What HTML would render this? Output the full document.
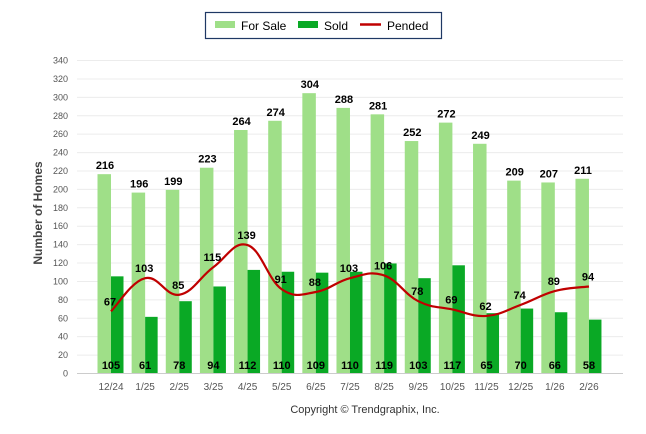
<!DOCTYPE html>
<html><head><meta charset="utf-8"><style>
body{margin:0;background:#fff;font-family:"Liberation Sans",sans-serif}
</style></head><body>
<svg width="646" height="434" id="c" style="display:block">
<g>
<rect x="205.5" y="12.5" width="236" height="26" fill="#fff" stroke="#1f3864" stroke-width="1.2"/>
<rect x="215" y="21" width="20" height="7" fill="#9fdf88"/>
<text x="241" y="30" font-size="12">For Sale</text>
<rect x="298" y="21" width="20" height="7" fill="#0aa925"/>
<text x="324" y="30" font-size="12">Sold</text>
<line x1="360" y1="24.5" x2="381" y2="24.5" stroke="#c00000" stroke-width="2.5"/>
<text x="387" y="30" font-size="12">Pended</text>
</g>
<text transform="translate(42,213) rotate(-90)" text-anchor="middle" font-size="12" font-weight="bold" fill="#444">Number of Homes</text>
<text x="365" y="413" text-anchor="middle" font-size="11" fill="#333">Copyright © Trendgraphix, Inc.</text>
<g id="grid"></g><g id="bars"></g><g id="line"></g><g id="labels"></g>
</svg>
<script>
const categories=["12/24","1/25","2/25","3/25","4/25","5/25","6/25","7/25","8/25","9/25","10/25","11/25","12/25","1/26","2/26"];
const forSale=[216,196,199,223,264,274,304,288,281,252,272,249,209,207,211];
const sold=[105,61,78,94,112,110,109,110,119,103,117,65,70,66,58];
const pended=[67,103,85,115,139,91,88,103,106,78,69,62,74,89,94];
const yTicks=[0,20,40,60,80,100,120,140,160,180,200,220,240,260,280,300,320,340];
const NS="http://www.w3.org/2000/svg";
const y=v=>373-v*18.41/20;
const xc=i=>111+i*34.14;
function mk(t,a,p){const e=document.createElementNS(NS,t);for(const k in a)e.setAttribute(k,a[k]);p.appendChild(e);return e;}
const grid=document.getElementById('grid'),bars=document.getElementById('bars'),line=document.getElementById('line'),labels=document.getElementById('labels');
yTicks.forEach(v=>{
 const l=mk('line',{x1:77,x2:623,y1:y(v)+.5,y2:y(v)+.5,stroke:v===0?'#ccc':'#ececec'},grid);
 
 
 const t=mk('text',{x:68,y:y(v)+3.5,'text-anchor':'end','font-size':9,fill:'#555'},grid);t.textContent=v;
 
 
});
categories.forEach((c,i)=>{
 const x=xc(i);
 const t=mk('text',{x:x,y:390,'text-anchor':'middle','font-size':10,fill:'#555'},grid);t.textContent=c;
 
 
 const b1=mk('rect',{x:x-13.5,y:y(forSale[i]),width:13.5,height:373-y(forSale[i]),fill:'#9fdf88'},bars);
 
 
 const b2=mk('rect',{x:x,y:y(sold[i]),width:12.5,height:373-y(sold[i]),fill:'#0aa925'},bars);
 
 
 const l1=mk('text',{x:x-6,y:y(forSale[i])-5,'text-anchor':'middle','font-size':11,'font-weight':'bold'},labels);l1.textContent=forSale[i];
 
 
 const l2=mk('text',{x:x,y:369,'text-anchor':'middle','font-size':11,'font-weight':'bold'},labels);l2.textContent=sold[i];
 
 
 const l3=mk('text',{x:x-1,y:y(pended[i])-6,'text-anchor':'middle','font-size':11,'font-weight':'bold'},labels);l3.textContent=pended[i];
 
 
});
const pts=pended.map((v,i)=>[xc(i),y(v)]);
let d=`M${pts[0][0]},${pts[0][1]}`;
for(let i=0;i<pts.length-1;i++){
 const p0=pts[Math.max(0,i-1)],p1=pts[i],p2=pts[i+1],p3=pts[Math.min(pts.length-1,i+2)];
 const k=0.2;
 d+=` C${p1[0]+(p2[0]-p0[0])*k},${p1[1]+(p2[1]-p0[1])*k} ${p2[0]-(p3[0]-p1[0])*k},${p2[1]-(p3[1]-p1[1])*k} ${p2[0]},${p2[1]}`;
}
const pl=mk('path',{d:d,fill:'none',stroke:'#c00000','stroke-width':2.2},line);


</script>
</body></html>
